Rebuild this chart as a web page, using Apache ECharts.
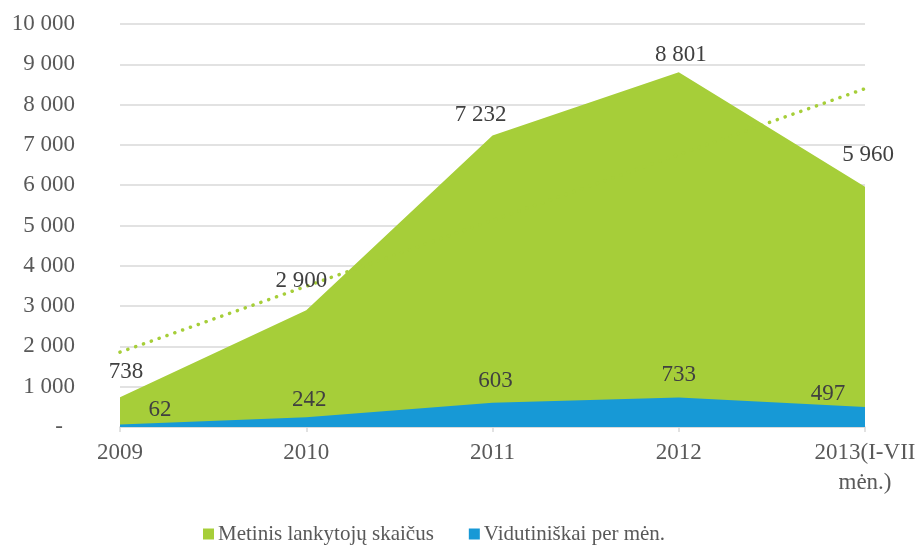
<!DOCTYPE html>
<html>
<head>
<meta charset="utf-8">
<script src="https://cdn.jsdelivr.net/npm/echarts@6/dist/echarts.min.js"></script>
<style>
  html, body { margin: 0; padding: 0; background: #fff; }
  #chart { width: 919px; height: 545px; }
</style>
</head>
<body>
<div id="chart"></div>
<script>
const categories = ["2009", "2010", "2011", "2012", "2013(I-VII\nmėn.)"];
const yearlyVisitors = [738, 2900, 7232, 8801, 5960];
const monthlyVisitors = [62, 242, 603, 733, 497];
const seriesNames = ["Metinis lankytojų skaičus", "Vidutiniškai per mėn."];

// linear trend (least squares) over the yearly series, like the spreadsheet trendline
function linearTrend(values) {
  const n = values.length;
  const mx = (n - 1) / 2;
  const my = values.reduce((a, b) => a + b, 0) / n;
  let sxy = 0, sxx = 0;
  values.forEach((v, i) => {
    sxy += (i - mx) * (v - my);
    sxx += (i - mx) * (i - mx);
  });
  const k = sxy / sxx;
  return values.map((v, i) => +(my + k * (i - mx)).toFixed(1));
}

const green = "#a6ce39";
const blue = "#1799d6";
const font = "'Liberation Serif', 'Times New Roman', serif";

// where each value label sits relative to its point
const greenOffsets = [[6, -25], [-5, -29], [-12, -21], [2, -17], [3, -32]];
const blueOffsets = [[40, -15], [3, -17], [3, -22], [0, -23], [-37, -13]];

const fmt = (v) => String(v).replace(/\B(?=(\d{3})+(?!\d))/g, " ");

function withLabels(values, offsets) {
  return values.map((v, i) => ({
    value: v,
    label: { offset: offsets[i] },
  }));
}

const chart = echarts.init(document.getElementById("chart"));
chart.setOption({
  animation: false,
  textStyle: { fontFamily: font },
  grid: { left: 120, right: 54, top: 24, bottom: 118 },
  legend: {
    data: seriesNames,
    left: 203,
    top: 522,
    padding: 0,
    icon: "rect",
    itemWidth: 11,
    itemHeight: 11,
    itemGap: 35,
    textStyle: { fontFamily: font, fontSize: 21, color: "#595959", lineHeight: 24, padding: [0, 0, 0, -1] },
  },
  xAxis: {
    type: "category",
    data: categories,
    boundaryGap: false,
    axisLine: { lineStyle: { color: "#d9d9d9", width: 1.5 } },
    axisTick: { show: true, length: 5, lineStyle: { color: "#d9d9d9", width: 1.5 } },
    axisLabel: {
      fontFamily: font,
      fontSize: 23,
      color: "#595959",
      lineHeight: 30,
      margin: 11,
      interval: 0,
    },
  },
  yAxis: {
    type: "value",
    min: 0,
    max: 10000,
    interval: 1000,
    axisLine: { show: false },
    axisTick: { show: false },
    splitLine: { lineStyle: { color: "#d9d9d9", width: 1.5 } },
    axisLabel: {
      fontFamily: font,
      fontSize: 23,
      color: "#595959",
      margin: 45,
      formatter: (v) => (v === 0 ? "{z|-}" : fmt(v)),
      rich: { z: { fontFamily: font, fontSize: 23, color: "#595959", padding: [0, 12, 0, 0] } },
    },
  },
  series: [
    {
      name: "trend",
      type: "line",
      data: linearTrend(yearlyVisitors),
      symbol: "none",
      silent: true,
      lineStyle: { color: green, width: 3.5, type: [0.1, 8.2], cap: "round" },
    },
    {
      name: seriesNames[0],
      type: "line",
      data: withLabels(yearlyVisitors, greenOffsets),
      symbol: "circle",
      symbolSize: 0.01,
      itemStyle: { color: green },
      lineStyle: { width: 0 },
      areaStyle: { color: green, opacity: 1 },
      label: {
        show: true,
        position: "inside",
        fontFamily: font,
        fontSize: 23,
        color: "#404040",
        formatter: (p) => fmt(p.value),
      },
      emphasis: { disabled: true },
    },
    {
      name: seriesNames[1],
      type: "line",
      data: withLabels(monthlyVisitors, blueOffsets),
      symbol: "circle",
      symbolSize: 0.01,
      itemStyle: { color: blue },
      lineStyle: { width: 0 },
      areaStyle: { color: blue, opacity: 1 },
      label: {
        show: true,
        position: "inside",
        fontFamily: font,
        fontSize: 23,
        color: "#404040",
        formatter: (p) => fmt(p.value),
      },
      emphasis: { disabled: true },
    },
  ],
});
</script>
</body>
</html>
